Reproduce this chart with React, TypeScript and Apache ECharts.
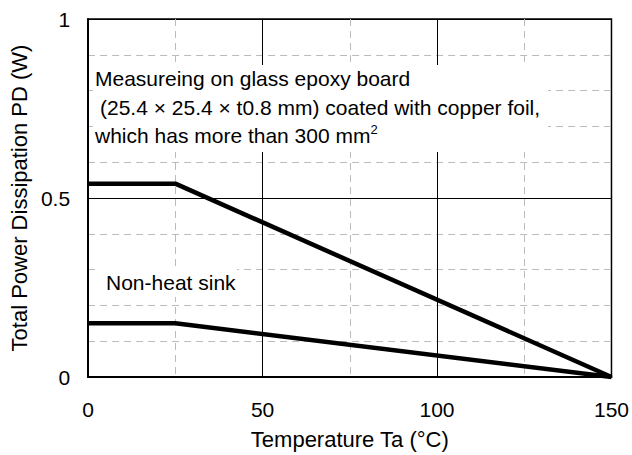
import React, { useEffect, useRef } from "react";
import * as echarts from "echarts";

const temps = [0, 25, 150];
const boardPD = [0.54, 0.54, 0];
const noSinkPD = [0.15, 0.15, 0];
const xTicks = [0, 50, 100, 150];
const yTicks = [0, 0.5, 1];

const FONT = "'Liberation Sans', Arial, sans-serif";

export default function App() {
  const ref = useRef<HTMLDivElement>(null);
  useEffect(() => {
    if (!ref.current) return;
    const chart = echarts.init(ref.current, undefined, { renderer: "svg" });
    const toPairs = (ys: number[]) => temps.map((t, i) => [t, ys[i]]);
    chart.setOption({
      animation: false,
      backgroundColor: "#fff",
      textStyle: { fontFamily: FONT },
      grid: {
        left: 88,
        top: 19,
        right: 20,
        bottom: 76,
        show: true,
        borderColor: "#000",
        borderWidth: 1.5,
        backgroundColor: "transparent",
      },
      xAxis: {
        type: "value",
        min: xTicks[0],
        max: xTicks[xTicks.length - 1],
        interval: 50,
        name: "Temperature Ta (°C)",
        nameLocation: "middle",
        nameGap: 51,
        nameTextStyle: { fontSize: 22, color: "#000", fontFamily: FONT },
        axisLine: { show: true, lineStyle: { color: "#000", width: 2 } },
        axisTick: { show: false },
        axisLabel: { fontSize: 21, color: "#000", margin: 22, fontFamily: FONT },
        splitLine: { show: true, lineStyle: { color: "#000", width: 1 } },
        minorTick: { show: false, splitNumber: 2 },
        minorSplitLine: { show: true, lineStyle: { color: "#bbb", width: 1, type: [7, 5] } },
      },
      yAxis: {
        type: "value",
        min: yTicks[0],
        max: yTicks[yTicks.length - 1],
        interval: 0.5,
        name: "Total Power Dissipation PD (W)",
        nameLocation: "middle",
        nameGap: 57,
        nameTextStyle: { fontSize: 22, color: "#000", fontFamily: FONT },
        axisLine: { show: true, lineStyle: { color: "#000", width: 2 } },
        axisTick: { show: false },
        axisLabel: { fontSize: 21, color: "#000", margin: 18, fontFamily: FONT },
        splitLine: { show: true, lineStyle: { color: "#000", width: 1 } },
        minorTick: { show: false, splitNumber: 5 },
        minorSplitLine: { show: true, lineStyle: { color: "#bbb", width: 1, type: [7, 5] } },
      },
      series: [
        {
          type: "line",
          data: toPairs(boardPD),
          symbol: "none",
          clip: false,
          lineStyle: { color: "#000", width: 4.5 },
          z: 5,
        },
        {
          type: "line",
          data: toPairs(noSinkPD),
          symbol: "none",
          clip: false,
          lineStyle: { color: "#000", width: 4.5 },
          z: 5,
        },
      ],
      graphic: [
        { type: "rect", z: 3, shape: { x: 93, y: 65, width: 455, height: 87 }, style: { fill: "#fff" } },
        { type: "rect", z: 3, shape: { x: 97, y: 268, width: 140, height: 29 }, style: { fill: "#fff" } },
        {
          type: "text", z: 4, x: 95, y: 78,
          style: { text: "Measureing on glass epoxy board", fontSize: 21, fontFamily: FONT, fill: "#000", verticalAlign: "middle" },
        },
        {
          type: "text", z: 4, x: 100, y: 107,
          style: { text: "(25.4 × 25.4 × t0.8 mm) coated with copper foil,", fontSize: 21, fontFamily: FONT, fill: "#000", verticalAlign: "middle" },
        },
        {
          type: "text", z: 4, x: 95, y: 135,
          style: {
            text: "which has more than 300 mm{sup|2}",
            fontSize: 21, fontFamily: FONT, fill: "#000", verticalAlign: "middle",
            rich: { sup: { fontSize: 13, fontFamily: FONT, fill: "#000", padding: [0, 0, 12, 0] } },
          },
        },
        {
          type: "text", z: 4, x: 106, y: 282,
          style: { text: "Non-heat sink", fontSize: 21, fontFamily: FONT, fill: "#000", verticalAlign: "middle" },
        },
      ],
    });
    return () => chart.dispose();
  }, []);
  return <div ref={ref} style={{ position: "fixed", left: 0, top: 0, width: 632, height: 455 }} />;
}
